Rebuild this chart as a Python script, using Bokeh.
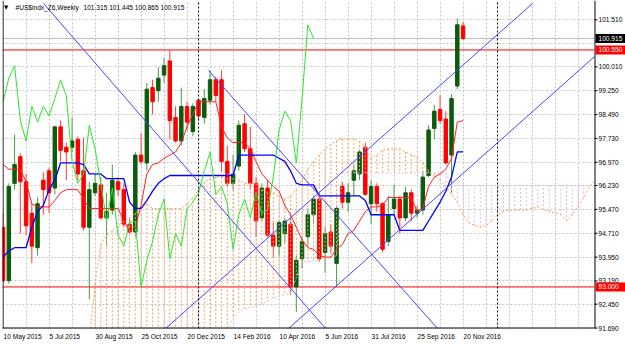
import pandas as pd
from bokeh.plotting import figure
from bokeh.models import (ColumnDataSource, FixedTicker, CustomJSTickFormatter, Label, Span, Range1d)
from bokeh.core.properties import value
from bokeh.embed import file_html
from bokeh.resources import INLINE

# ---------------- data ----------------
symbol = "#US$indx_Z6,Weekly"
first_week = "2015-05-10"

opens = [94.90, 93.20, 96.30, 97.15, 96.35, 95.35, 94.25, 96.40, 96.70, 96.15,
         98.10, 97.45, 97.45, 97.70, 96.70, 94.90, 96.00, 96.25, 95.20, 95.45,
         96.35, 96.10, 95.00, 94.75, 97.20, 96.95, 99.35, 99.25, 99.75, 100.20,
         98.40, 97.65, 98.75, 97.95, 98.95, 98.40, 98.95, 99.60, 99.60, 97.00,
         96.30, 96.85, 98.20, 97.40, 96.30, 95.20, 96.15, 94.65, 94.30, 94.70,
         95.00, 93.00, 93.90, 94.60, 95.30, 95.80, 94.10, 94.75, 93.75, 96.20,
         95.70, 96.40, 96.60, 97.45, 95.65, 96.20, 95.65, 94.45, 95.50, 95.80,
         95.20, 96.00, 95.35, 95.45, 96.55, 98.05, 98.65, 98.35, 97.20, 99.40,
         101.315]
highs = [95.35, 96.30, 97.85, 97.25, 96.60, 95.65, 95.85, 96.65, 96.80, 98.10,
         98.30, 97.60, 98.40, 97.80, 97.75, 96.35, 96.60, 96.50, 96.00, 96.90,
         96.50, 96.30, 95.20, 97.30, 97.90, 99.50, 99.60, 100.00, 100.30, 100.55,
         98.75, 99.35, 98.90, 98.85, 99.00, 99.30, 99.90, 99.70, 99.90, 97.50,
         97.20, 98.30, 98.50, 98.10, 96.50, 96.30, 96.40, 95.05, 95.10, 95.20,
         95.30, 94.00, 94.60, 95.50, 95.90, 96.00, 94.90, 95.00, 95.60, 96.35,
         96.30, 96.90, 97.40, 97.60, 96.40, 96.30, 95.70, 95.90, 96.25, 95.90,
         96.20, 96.10, 95.60, 96.70, 98.15, 98.80, 99.10, 98.60, 99.15, 101.55,
         101.445]
lows = [93.15, 93.10, 96.10, 94.70, 94.65, 93.75, 94.00, 95.30, 95.35, 95.95,
        97.00, 96.40, 97.30, 96.40, 94.80, 92.60, 95.90, 95.15, 94.30, 95.30,
        95.90, 94.90, 94.70, 94.60, 96.90, 96.70, 98.50, 98.90, 99.50, 97.70,
        97.60, 97.50, 98.00, 97.80, 98.30, 98.20, 98.80, 98.90, 96.65, 96.20,
        96.10, 96.70, 97.30, 96.10, 94.60, 95.10, 94.60, 93.95, 94.00, 94.40,
        92.75, 92.20, 93.60, 94.30, 95.00, 93.80, 93.45, 94.10, 93.00, 95.50,
        95.40, 95.90, 96.40, 95.90, 95.00, 95.40, 94.10, 94.30, 95.30, 94.70,
        95.10, 95.10, 95.20, 95.30, 96.50, 97.70, 98.20, 96.90, 96.00, 99.30,
        100.865]
closes = [93.20, 96.20, 96.90, 96.35, 94.95, 94.30, 95.65, 96.10, 96.00, 98.10,
          97.35, 97.30, 97.65, 96.60, 94.90, 96.10, 96.30, 95.20, 95.40, 96.40,
          96.10, 95.00, 94.75, 97.20, 97.00, 99.30, 98.90, 99.65, 100.05, 98.30,
          97.65, 98.75, 98.25, 98.75, 98.45, 99.00, 99.60, 99.10, 97.00, 96.30,
          96.60, 98.15, 97.40, 96.30, 95.10, 96.15, 94.65, 94.30, 95.05, 95.10,
          93.00, 93.85, 94.45, 95.30, 95.80, 93.90, 94.70, 94.30, 95.50, 95.70,
          96.00, 96.70, 97.30, 95.95, 96.20, 95.65, 94.20, 95.30, 95.80, 95.20,
          96.00, 95.35, 95.45, 96.50, 98.00, 98.60, 98.30, 96.95, 99.00, 101.35,
          100.915]

tenkan = [96.90, 96.75, 96.75, 96.75, 96.35, 95.65, 95.55, 95.55, 95.55, 95.75,
          96.00, 96.10, 96.10, 96.10, 95.80, 95.50, 95.50, 95.50, 95.50, 95.50,
          95.50, 95.10, 94.80, 94.90, 95.60, 96.60, 96.90, 96.95, 97.10, 97.20,
          97.30, 97.60, 98.10, 98.50, 98.90, 98.90, 98.90, 98.90, 98.10, 97.75,
          97.60, 97.60, 97.60, 97.40, 97.00, 96.60, 96.40, 96.20, 96.05, 95.60,
          95.30, 94.90, 94.50, 94.25, 94.20, 94.00, 93.95, 93.95, 94.20, 94.35,
          94.70, 94.80, 95.10, 95.40, 95.55, 95.55, 95.60, 95.85, 95.85, 95.85,
          95.85, 95.85, 95.40, 95.50, 96.20, 96.50, 96.60, 96.75, 97.10, 98.25,
          98.30]
kijun = [93.95, 94.15, 94.25, 94.25, 94.25, 94.90, 95.40, 95.60, 96.10, 96.40,
         96.95, 96.95, 96.95, 96.95, 96.90, 96.60, 96.60, 96.60, 96.45, 96.45,
         96.45, 96.45, 95.70, 95.50, 95.50, 95.75, 96.05, 96.30, 96.45, 96.55,
         96.55, 96.55, 96.55, 96.55, 96.55, 96.55, 96.55, 96.55, 96.55, 96.55,
         96.55, 97.20, 97.20, 97.20, 97.20, 97.20, 97.20, 97.20, 97.10, 97.00,
         96.70, 96.30, 96.25, 96.25, 96.25, 95.90, 95.90, 95.90, 95.90, 95.90,
         95.90, 95.90, 95.90, 95.75, 95.30, 95.30, 95.30, 95.30, 95.30, 94.80,
         94.80, 94.80, 94.80, 94.80, 95.10, 95.40, 95.70, 96.05, 96.50, 97.30,
         97.30]

span_start = 15          # first bar where the cloud is drawn
senkou_a = [91.30, 93.10, 94.35, 94.65, 94.80, 94.95, 95.10, 95.20, 95.35, 95.50,
            95.65, 95.50, 95.50, 95.50, 95.50, 95.50, 95.50, 95.65, 95.85, 96.10,
            96.35, 96.45, 96.50, 96.50, 96.60, 96.60, 96.40, 96.30, 96.30, 96.30,
            96.10, 96.00, 96.00, 95.90, 95.80, 95.90, 96.10, 96.40, 96.75, 97.00,
            97.20, 97.40, 97.55, 97.65, 97.72, 97.72, 97.72, 97.65, 97.45, 97.10,
            97.20, 97.35, 97.40, 97.40, 97.40, 97.30, 97.20, 97.15, 96.95, 96.70,
            96.55, 96.40, 96.20, 95.95, 95.70, 95.30, 95.05, 94.95, 94.90, 94.95,
            95.10, 95.30, 95.40, 95.45, 95.45, 95.45, 95.45, 95.50, 95.55, 95.45,
            95.40, 95.35, 95.30, 95.10, 95.30, 95.55, 95.85, 96.20, 96.40]
senkou_b = [90.50, 90.50, 90.50, 90.50, 90.50, 90.50, 90.50, 90.50, 90.50, 90.50,
            90.50, 90.50, 90.50, 90.50, 90.50, 90.50, 90.50, 90.50, 90.50, 90.50,
            90.50, 90.50, 90.50, 91.00, 91.60, 92.00, 92.20, 92.30, 92.35, 92.40,
            92.45, 92.55, 92.65, 92.70, 92.75, 92.80, 93.30, 93.80, 93.80, 93.85,
            93.85, 93.90, 93.90, 94.00, 96.63, 96.63, 96.63, 96.63, 96.63, 96.63,
            96.63, 96.63, 96.63, 96.63, 96.63, 96.63, 96.63, 96.63, 96.63, 96.63,
            96.63, 96.63, 96.63, 96.23, 96.23, 96.23, 96.23, 96.23, 96.23, 96.23,
            96.23, 96.23, 96.23, 96.23, 96.23, 96.23, 96.23, 96.23, 96.23, 96.23,
            96.23, 96.23, 96.23, 96.23, 96.23, 96.23, 96.23, 96.23, 96.23]
chikou_shift = 26

date_labels = ["10 May 2015", "5 Jul 2015", "30 Aug 2015", "25 Oct 2015",
               "20 Dec 2015", "14 Feb 2016", "10 Apr 2016", "5 Jun 2016",
               "31 Jul 2016", "25 Sep 2016", "20 Nov 2016"]
price_ticks = [91.690, 92.450, 93.190, 93.950, 94.710, 95.470, 96.230, 96.970,
               97.730, 98.490, 99.250, 100.010, 101.510]
hidden_price_grid = [100.770]
red_levels = [100.550, 93.000]
bid_price = 100.915

# trend lines: (bar, price) -> (bar, price)
trend_lines = [((7.04, 102.03), (56.09, 91.676)),
               ((35.74, 99.895), (75.57, 91.676)),
               ((28.26, 91.676), (92.09, 102.03)),
               ((49.65, 91.676), (102.87, 100.34))]

# ---------------- layout ----------------
W, H = 625, 344
FL, FR, FT, FB = 2, 594, 0, 328          # chart area; price scale drawn right of FR
EXTRA = 4                                 # frame runs a few px below the chart border
X0 = -0.1
PPB = 5.7498                              # pixels per weekly bar
Y0, Y1 = 91.676, 102.125                  # prices at the chart's bottom / top edge
FONT = "Liberation Sans"
FPX = 6.6
XEND = X0 + (W - FL) / PPB
PPU = (FB - FT) / (Y1 - Y0)
YLOW = Y0 - EXTRA / PPU


def px_to_x(px):
    return X0 + (px - FL) / PPB


x_right = px_to_x(FR)

p = figure(width=W, height=H, output_backend="svg", toolbar_location=None,
           x_range=Range1d(X0, XEND), y_range=Range1d(YLOW, Y1),
           y_axis_location=None, min_border_left=FL, min_border_right=0,
           min_border_top=FT, min_border_bottom=H - FB - EXTRA, title=None)
p.background_fill_color = "white"
p.border_fill_color = "white"
p.outline_line_color = None

# grids
p.xgrid.ticker = FixedTicker(ticks=list(range(0, int(x_right) + 1, 4)))
p.ygrid.ticker = FixedTicker(ticks=sorted(price_ticks + hidden_price_grid))
for g in (p.xgrid, p.ygrid):
    g.grid_line_color = "#C4C4C4"
    g.grid_line_dash = "2 2"
    g.grid_line_width = 1

# bottom date axis: labels start at their week, as in MetaTrader
CHAR_EM = {d: 0.556 for d in "0123456789"}
CHAR_EM.update({" ": 0.278, "M": 0.833, "a": 0.556, "y": 0.5, "J": 0.5, "u": 0.556,
                "l": 0.222, "A": 0.667, "g": 0.556, "O": 0.778, "c": 0.5, "t": 0.278,
                "D": 0.722, "e": 0.556, "F": 0.611, "b": 0.556, "p": 0.556, "r": 0.333,
                "n": 0.556, "S": 0.667, "N": 0.722, "o": 0.556, "v": 0.5})
start = pd.Timestamp(first_week)
label_centers = []
for lab in date_labels:
    idx = (pd.to_datetime(lab) - start).days / 7.0
    wpx = sum(CHAR_EM.get(ch, 0.556) for ch in lab) * FPX
    label_centers.append(idx + (wpx / 2 + 0.5) / PPB)
xa = p.xaxis[0]
xa.ticker = FixedTicker(ticks=label_centers)
xa.formatter = CustomJSTickFormatter(args=dict(labels=date_labels), code="return labels[index];")
xa.axis_line_color = None
xa.major_tick_out = 0
xa.major_tick_in = 0
xa.minor_tick_out = 0
xa.minor_tick_in = 0
xa.major_label_standoff = 0
xa.major_label_text_font = FONT
xa.major_label_text_font_size = f"{FPX}px"
xa.major_label_text_color = "black"

# horizontal levels (stop at the price scale)
p.segment(x0=[X0] * len(red_levels), x1=[x_right] * len(red_levels),
          y0=red_levels, y1=red_levels, line_color="#FF0000", line_width=1)
p.segment(x0=[X0], x1=[x_right], y0=[bid_price], y1=[bid_price],
          line_color="#BDBDBD", line_width=1)

# candles
n = len(closes)
bars = list(range(n))
up = [c >= o for o, c in zip(opens, closes)]
csrc = ColumnDataSource(dict(
    x=bars, h=highs, l=lows,
    top=[max(o, c) for o, c in zip(opens, closes)],
    bot=[min(o, c) for o, c in zip(opens, closes)],
    wick=["#4E9A4E" if u else "#FF3A3A" for u in up],
    body=["#0A5C0A" if u else "#FF0000" for u in up]))
p.segment(x0="x", y0="l", x1="x", y1="h", line_color="wick", line_width=1, source=csrc)
p.vbar(x="x", width=0.6, top="top", bottom="bot", fill_color="body", line_color="body",
       line_width=1, source=csrc)

# Ichimoku cloud (dotted hatch)
span_x = list(range(span_start, span_start + len(senkou_a)))
bull = [a >= b for a, b in zip(senkou_a, senkou_b)]
for flag, col in ((True, "#F4A460"), (False, "#D8BFD8")):
    xs = [x for x, f in zip(span_x, bull) if f == flag]
    ya_ = [a for a, f in zip(senkou_a, bull) if f == flag]
    yb_ = [b for b, f in zip(senkou_b, bull) if f == flag]
    p.segment(x0=xs, y0=ya_, x1=xs, y1=yb_, line_color=col, line_width=1, line_dash="2 2")
p.line(span_x, senkou_a, line_color="#F4A460", line_width=1, line_dash="2 2")
p.line(span_x, senkou_b, line_color="#D8BFD8", line_width=1, line_dash="2 2")

# Tenkan, Kijun, Chikou
p.line(bars, tenkan, line_color="#FF2020", line_width=1)
p.line(bars, kijun, line_color="#0000FF", line_width=1.3)
p.line([i - chikou_shift for i in range(chikou_shift, n)], closes[chikou_shift:],
       line_color="#2BE62B", line_width=1)

# trend lines
for (xa0, ya0), (xa1, ya1) in trend_lines:
    p.line([xa0, xa1], [ya0, ya1], line_color="#4646FF", line_width=1)

# year separators (stop at the chart's bottom border)
all_weeks = pd.date_range(first_week, periods=int(x_right) + 2, freq="7D")
seps = [i for i in range(1, len(all_weeks)) if all_weeks[i].year != all_weeks[i - 1].year]
p.segment(x0=seps, x1=seps, y0=[Y0] * len(seps), y1=[Y1] * len(seps),
          line_color="black", line_width=1, line_dash="2 2")

# ---------------- mask outside the chart area ----------------
p.quad(left=[x_right, X0], right=[XEND, XEND], bottom=[YLOW, YLOW], top=[Y1, Y0],
       fill_color="white", line_color=None)

# chart border: left, bottom, right
p.line([px_to_x(FL + 0.5)] * 2, [Y0, Y1], line_color="black", line_width=1)
p.line([X0, x_right], [Y0 + 0.5 / PPU] * 2, line_color="black", line_width=1)
p.line([px_to_x(FR + 0.5)] * 2, [Y0, Y1], line_color="black", line_width=1)

# price scale: tick marks and labels
p.segment(x0=[px_to_x(FR)] * len(price_ticks), x1=[px_to_x(FR + 3)] * len(price_ticks),
          y0=price_ticks, y1=price_ticks, line_color="black", line_width=1)
p.text(x=[px_to_x(FR + 4)] * len(price_ticks), y=price_ticks,
       text=[f"{v:.3f}" for v in price_ticks], text_font=value(FONT),
       text_font_size=f"{FPX}px", text_baseline="middle", text_align="left",
       text_color="black")
# highlighted price boxes
box_levels = [bid_price] + red_levels
box_colors = ["black", "#FF0000", "#FF0000"]
half = 4.5 / PPU
p.quad(left=[px_to_x(FR + 1)] * 3, right=[XEND] * 3,
       bottom=[v - half for v in box_levels], top=[v + half for v in box_levels],
       fill_color=box_colors, line_color=None)
p.text(x=[px_to_x(FR + 4)] * 3, y=box_levels, text=[f"{v:.3f}" for v in box_levels],
       text_font=value(FONT), text_font_size=f"{FPX}px", text_baseline="middle",
       text_align="left", text_color="white")

# header
p.add_layout(Label(x=3.5, y=6.8, x_units="canvas", y_units="canvas", text="\u25BC",
                   text_font="DejaVu Sans", text_font_size="5.5px",
                   text_baseline="middle", text_color="black"))
p.add_layout(Label(x=15, y=6.8, x_units="canvas", y_units="canvas", text=symbol,
                   text_font=FONT, text_font_size=f"{FPX}px", text_baseline="middle",
                   text_color="black"))
p.add_layout(Label(x=83, y=6.8, x_units="canvas", y_units="canvas",
                   text=" ".join(f"{v:.3f}" for v in (opens[-1], highs[-1], lows[-1], closes[-1])),
                   text_font=FONT, text_font_size=f"{FPX}px", text_baseline="middle",
                   text_color="black"))

open("out.html", "w").write(file_html(p, INLINE))
